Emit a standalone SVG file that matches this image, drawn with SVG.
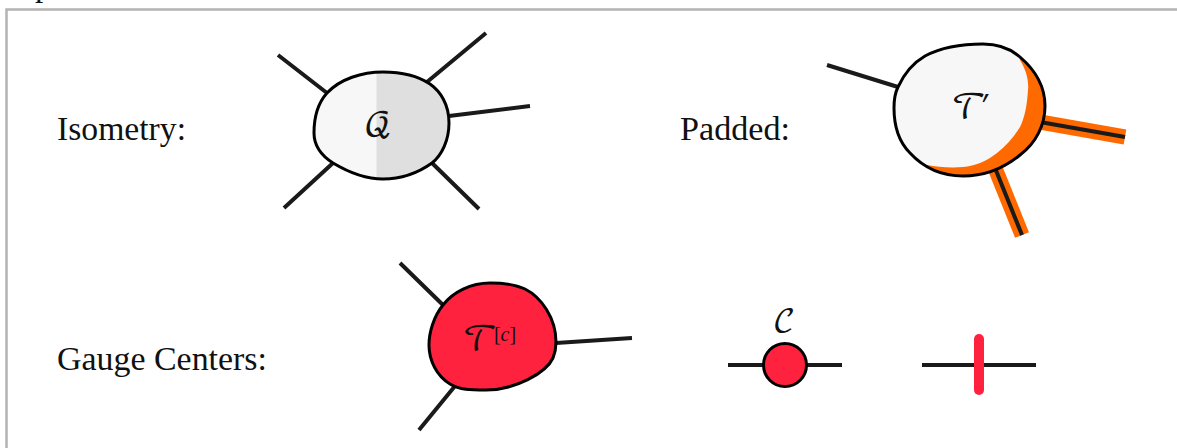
<svg xmlns="http://www.w3.org/2000/svg" width="1177" height="448" viewBox="0 0 1177 448">
<style>
.leg{fill:none;stroke:#1a1a1a;stroke-width:4}
.blob{fill:none;stroke:#000;stroke-width:3;stroke-linejoin:round}
.lbl{font-family:"Liberation Serif","Times New Roman",serif;font-size:33px;fill:#111}
.sym{font-family:"DejaVu Math TeX Gyre","Liberation Serif",serif;font-size:34px;fill:#111;text-anchor:middle}
.red{fill:#ff223f}
</style>
<defs>
<clipPath id="cq"><path d="M383 72C402 72 418 76 430 84C440 91 449 104 449 123C449 140 442 155 432 163C418 173 400 179 383 179C366 179 348 172 333 163C322 156 314 146 314 133C314 118 318 103 327 93C340 79 362 72 383 72Z"/></clipPath>
<clipPath id="ct"><path d="M983 44C998 44 1011 49 1020 57C1034 69 1045 86 1045 106C1045 125 1036 143 1020 155C1004 168 985 176 963 176C941 176 923 167 910 153C899 142 894 125 894 108C894 100 895 93 898 87C904 74 913 63 925 56C942 47 962 44 983 44Z"/></clipPath>
</defs>
<rect width="1177" height="448" fill="#fff"/>
<path d="M6.500 448V9.500H1177" fill="none" stroke="#b3b3b3" stroke-width="2.500"/>
<text class="lbl" x="35" y="-4">p</text>
<text class="lbl" x="57" y="140" textLength="129" lengthAdjust="spacingAndGlyphs">Isometry:</text>
<text class="lbl" x="680" y="140" textLength="110" lengthAdjust="spacingAndGlyphs">Padded:</text>
<text class="lbl" x="57" y="370" textLength="210" lengthAdjust="spacingAndGlyphs">Gauge Centers:</text>
<g id="connectors">
<path class="leg" d="M278 55L327 93M486 33L427 82M530 106L449 116M333 163L284 208M432 163L479 209"/>
<path class="leg" d="M827 65L898 87"/>
<path d="M1040 122L1125 137M995 168L1022 235" fill="none" stroke="#ff6a00" stroke-width="15"/>
<path class="leg" d="M1040 122L1125 137M995 168L1022 235"/>
<path class="leg" d="M400 263L443 305M632 338L556 343M419 430L455 386"/>
<path class="leg" d="M728 365H842M922 365H1036"/>
</g>
<g id="node-q">
<g clip-path="url(#cq)"><rect x="310" y="68" width="67" height="115" fill="#f7f7f7"/><rect x="376.500" y="68" width="80" height="115" fill="#dfdfdf"/></g>
<path class="blob" d="M383 72C402 72 418 76 430 84C440 91 449 104 449 123C449 140 442 155 432 163C418 173 400 179 383 179C366 179 348 172 333 163C322 156 314 146 314 133C314 118 318 103 327 93C340 79 362 72 383 72Z"/>
<text class="sym" x="378" y="136">𝒬</text>
</g>
<g id="node-t-prime">
<g clip-path="url(#ct)"><rect x="885" y="35" width="170" height="150" fill="#ff6a00"/><path d="M1020 60C1026 70 1029 80 1028 90C1027 105 1025 117 1020 127C1014 137 1006 146 997 153C987 161 975 166 963 167C950 168 938 167 927 165L880 180V30H1010Z" fill="#f7f7f7"/></g>
<path class="blob" d="M983 44C998 44 1011 49 1020 57C1034 69 1045 86 1045 106C1045 125 1036 143 1020 155C1004 168 985 176 963 176C941 176 923 167 910 153C899 142 894 125 894 108C894 100 895 93 898 87C904 74 913 63 925 56C942 47 962 44 983 44Z"/>
<text class="sym" x="971" y="119">𝒯<tspan dx="-6">′</tspan></text>
</g>
<g id="node-t-center">
<path class="blob red" style="stroke:#000" d="M490 283C503 283 515 284 525 289C541 297 556 318 556 342C556 349 555 353 553 358C546 373 515 390 486 390C470 390 460 390 450 384C437 376 429 361 429 345C429 332 434 316 443 305C453 292 471 283 490 283Z"/>
<text class="sym" x="480" y="351">𝒯</text>
<text x="505" y="341" style="font-family:'Liberation Serif',serif;font-size:20px;fill:#111;text-anchor:middle">[<tspan font-style="italic">c</tspan>]</text>
</g>
<g id="node-c">
<circle class="red" cx="785" cy="365" r="21.500" stroke="#000" stroke-width="3"/>
<text class="sym" x="784" y="332" style="font-size:31px">𝒞</text>
</g>
<g id="node-bar">
<path d="M979 339V390" stroke="#ff223f" stroke-width="10" stroke-linecap="round" fill="none"/>
</g>
</svg>
